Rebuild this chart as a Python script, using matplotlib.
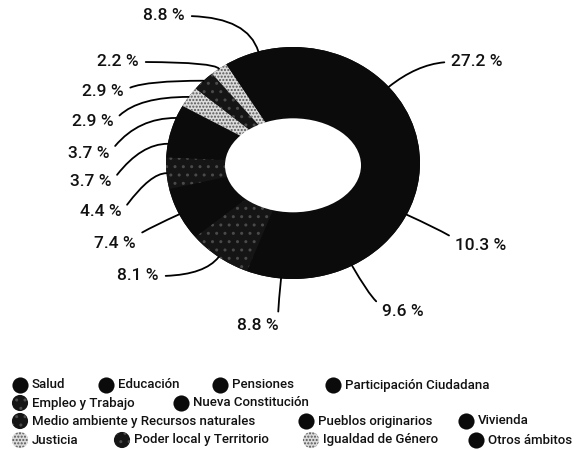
import numpy as np
import matplotlib
matplotlib.use("Agg")
import matplotlib.pyplot as plt
from matplotlib.patches import Ellipse

plt.rcParams['font.family'] = ['Roboto', 'DejaVu Sans']

categories = ['Salud', 'Educación', 'Pensiones', 'Participación Ciudadana',
              'Empleo y Trabajo', 'Nueva Constitución',
              'Medio ambiente y Recursos naturales', 'Pueblos originarios',
              'Vivienda', 'Justicia', 'Poder local y Territorio',
              'Igualdad de Género', 'Otros ámbitos']
values = [27.2, 10.3, 9.6, 8.8, 8.1, 7.4, 4.4, 3.7, 3.7, 2.9, 2.9, 2.2, 8.8]

# fill style per category: solid black, dark speckle, light speckle
kinds = ['solid', 'solid', 'solid', 'solid', 'dark', 'solid', 'dark',
         'solid', 'solid', 'light', 'dark', 'light', 'solid']
style = {'solid': ('#0b0b0b', '#0b0b0b', None),
         'dark': ('#151515', '#4a4a4a', '..'),
         'light': ('#dcdcdc', '#555555', '.....')}

# label text positions in pixels (x, y from top)
label_pos = [(477, 62), (481, 245), (403, 311), (258, 326), (138, 276),
             (115, 244), (101, 212), (91, 182), (89, 153), (93, 122),
             (103, 92), (118, 62), (164, 16)]

W, H = 576, 450
fig = plt.figure(figsize=(W / 100, H / 100), dpi=100)

cx, cy, rx, ry = 293, 163, 127, 116
ax = fig.add_axes([(cx - rx) / W, (H - cy - ry) / H, 2 * rx / W, 2 * ry / H])
# black disc underneath so no seams show between wedges
ax.pie([1], colors=['#0b0b0b'], wedgeprops=dict(linewidth=0))
wedges, _ = ax.pie(values, startangle=90, counterclock=False,
                   colors=[style[k][0] for k in kinds],
                   wedgeprops=dict(linewidth=0))
for w, k in zip(wedges, kinds):
    fc, ec, hatch = style[k]
    w.set_edgecolor(ec)
    w.set_linewidth(0)
    if hatch:
        w.set_hatch(hatch)
# the hole is wider than tall in the original scan
ax.add_patch(Ellipse((0.0, -0.02), 2 * 68 / rx, 2 * 47 / ry,
                     facecolor='white', edgecolor='none', zorder=5))
ax.set_aspect('auto')
ax.set_xlim(-1, 1)
ax.set_ylim(-1, 1)

lax = fig.add_axes([0, 0, 1, 1])
lax.set_xlim(0, W)
lax.set_ylim(H, 0)
lax.axis('off')

cum = np.cumsum([0] + values[:-1])
for i, v in enumerate(values):
    th = np.radians(90 - 3.6 * (cum[i] + v / 2))
    px, py = np.cos(th), np.sin(th)
    ix, iy = cx + rx * px, cy - ry * py
    tx, ty = label_pos[i]
    radial = np.degrees(np.arctan2(ry * py, rx * px))
    left = tx < cx
    same_side = (ty > iy) == (py < 0)
    if same_side and abs(py) > 0.35:
        conn = f"angle3,angleA=0,angleB={radial:.1f}"
    else:
        conn = "angle3,angleA=%d,angleB=0" % (55 if ty > iy else -55)
    relpos = (1, 0.5) if left else (0, 0.5)
    if i == 2:
        relpos = (0, 0.9)
    if i == 3:
        relpos = (1, 0.9)
    lax.annotate(f"{v:.1f} %", xy=(px, py), xycoords=ax.transData,
                 xytext=(tx, ty), textcoords='data', ha='center', va='center',
                 fontsize=12.5, fontweight='medium', color='#111111',
                 arrowprops=dict(arrowstyle='-', color='black', lw=1.3,
                                 relpos=relpos, connectionstyle=conn,
                                 shrinkA=3, shrinkB=0))

# legend laid out in rows like the original
legend_items = [(0, 20, 385), (1, 106, 385), (2, 220, 385), (3, 333, 385),
                (4, 20, 403), (5, 181, 403),
                (6, 20, 421), (7, 306, 421), (8, 466, 421),
                (9, 20, 440), (10, 122, 440), (11, 311, 440), (12, 476, 440)]
for idx, mx, my in legend_items:
    fc, ec, hatch = style[kinds[idx]]
    lax.scatter([mx], [my], s=135, marker='o', facecolor=fc,
                edgecolor=ec if hatch else fc, linewidth=0, hatch=hatch)
    lax.text(mx + 12, my, categories[idx], ha='left', va='center',
             fontsize=9.5, fontweight='medium', color='#111111')

fig.savefig('out.png', dpi=100)
